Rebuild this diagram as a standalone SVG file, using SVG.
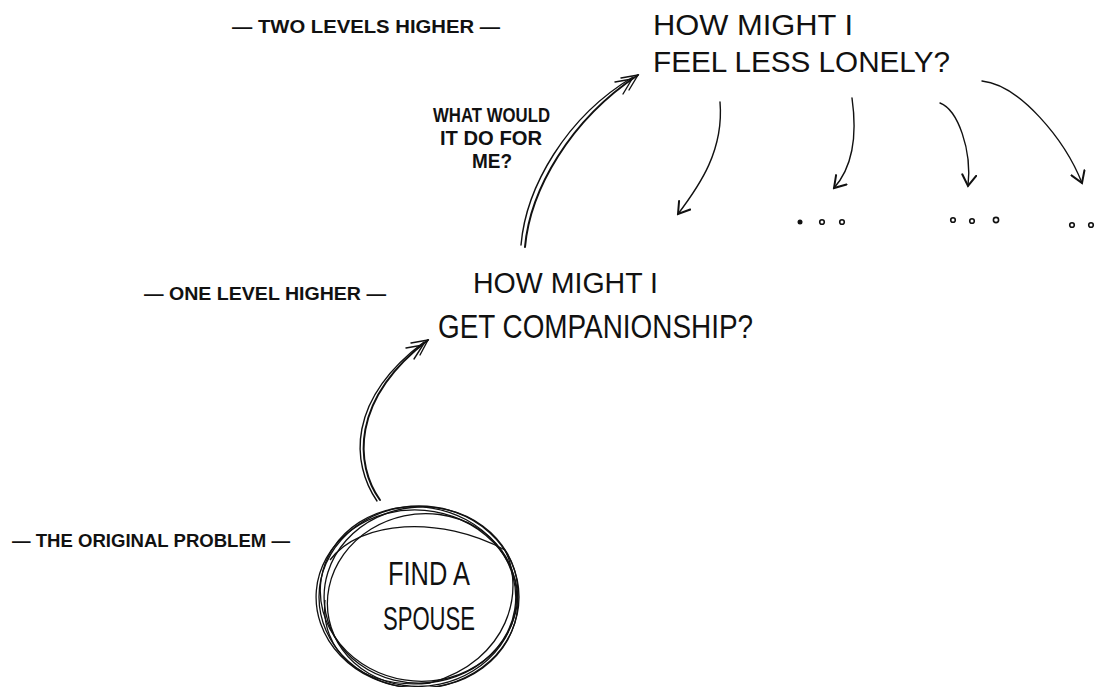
<svg xmlns="http://www.w3.org/2000/svg" width="1112" height="687" viewBox="0 0 1112 687">
<defs>
<style>
.big{font-family:"Liberation Sans Narrow","Liberation Sans",Arial,sans-serif;fill:#111;}
.lbl{font-family:"Liberation Sans Narrow","Liberation Sans",Arial,sans-serif;font-size:18px;font-weight:bold;fill:#111;}
.ln{fill:none;stroke:#111;stroke-width:2;stroke-linecap:round;}
.thin{fill:none;stroke:#111;stroke-width:1.4;stroke-linecap:round;}
.loop{fill:none;stroke:#111;stroke-width:1.3;}
.dot{fill:none;stroke:#111;stroke-width:1.6;}
</style>
<marker id="vhead" viewBox="-12 -8 14 16" markerWidth="14" markerHeight="16" refX="0" refY="0" orient="auto" markerUnits="userSpaceOnUse">
<path d="M-11,-7 L0,0 L-11,7" fill="none" stroke="#111" stroke-width="2" stroke-linecap="round"/>
</marker>
</defs>
<rect width="1112" height="687" fill="#fff"/>

<g id="label-two-levels">
<text class="lbl" x="232" y="33" textLength="268" lengthAdjust="spacingAndGlyphs">— TWO LEVELS HIGHER —</text>
</g>
<g id="label-one-level">
<text class="lbl" x="144" y="300" textLength="242" lengthAdjust="spacingAndGlyphs">— ONE LEVEL HIGHER —</text>
</g>
<g id="label-original">
<text class="lbl" x="12" y="547" textLength="278" lengthAdjust="spacingAndGlyphs">— THE ORIGINAL PROBLEM —</text>
</g>
<g id="label-what-would">
<text class="lbl" x="433" y="122" textLength="117" lengthAdjust="spacingAndGlyphs" style="font-size:20px">WHAT WOULD</text>
<text class="lbl" x="440" y="145" textLength="102" lengthAdjust="spacingAndGlyphs" style="font-size:20px">IT DO FOR</text>
<text class="lbl" x="472" y="168" textLength="40" lengthAdjust="spacingAndGlyphs" style="font-size:20px">ME?</text>
</g>

<g id="node-lonely">
<text class="big" x="653" y="35" font-size="29" textLength="200" lengthAdjust="spacingAndGlyphs">HOW MIGHT I</text>
<text class="big" x="653" y="72" font-size="29" textLength="297" lengthAdjust="spacingAndGlyphs">FEEL LESS LONELY?</text>
</g>
<g id="node-companionship">
<text class="big" x="473" y="293" font-size="29" textLength="185" lengthAdjust="spacingAndGlyphs">HOW MIGHT I</text>
<text class="big" x="438" y="338" font-size="34" textLength="315" lengthAdjust="spacingAndGlyphs">GET COMPANIONSHIP?</text>
</g>
<g id="node-spouse">
<ellipse class="loop" cx="419" cy="597" rx="100" ry="91"/>
<ellipse class="loop" cx="421" cy="595" rx="97" ry="88" transform="rotate(-6 421 595)"/>
<ellipse class="loop" cx="417" cy="599" rx="101" ry="89" transform="rotate(5 417 599)"/>
<ellipse class="loop" cx="422" cy="600" rx="95" ry="86" transform="rotate(-12 422 600)"/>
<ellipse class="loop" cx="418" cy="594" rx="98" ry="87" transform="rotate(9 418 594)"/>
<path class="loop" d="M330,560 C360,520 440,515 505,550 C525,590 510,660 430,683 C360,690 320,650 325,600"/>
<text class="big" x="388" y="585" font-size="34" textLength="82" lengthAdjust="spacingAndGlyphs">FIND A</text>
<text class="big" x="383" y="630" font-size="34" textLength="92" lengthAdjust="spacingAndGlyphs">SPOUSE</text>
</g>

<g id="connectors">
<path class="ln" d="M380,500 C355,465 350,400 428,340"/>
<path class="thin" d="M377,501 C351,463 347,400 424,342"/>
<path d="M411,343 L428,340 L420,355 M406,348 L423,345 L414,359" class="thin"/>

<path class="ln" d="M525,247 C530,190 570,120 638,75"/>
<path class="thin" d="M521,245 C526,187 566,117 633,77"/>
<path d="M621,78 L638,75 L629,90 M615,82 L632,79 L623,94" class="thin"/>

<path class="thin" d="M720,102 C724,150 700,185 678,214" marker-end="url(#vhead)"/>
<path class="thin" d="M852,98 C858,140 850,170 834,188" marker-end="url(#vhead)"/>
<path class="thin" d="M940,103 C958,110 972,150 968,186" marker-end="url(#vhead)"/>
<path class="thin" d="M982,81 C1020,85 1065,140 1082,183" marker-end="url(#vhead)"/>
</g>

<g id="dots">
<circle cx="800" cy="222" r="2.5" fill="#111"/>
<circle class="dot" cx="822" cy="222" r="2.3"/>
<circle class="dot" cx="842" cy="222" r="2.3"/>
<circle class="dot" cx="953" cy="220" r="2.3"/>
<circle class="dot" cx="972" cy="221" r="2.3"/>
<circle class="dot" cx="996" cy="220" r="2.6"/>
<circle class="dot" cx="1072" cy="225" r="2.3"/>
<circle class="dot" cx="1091" cy="225" r="2.3"/>
</g>
</svg>
